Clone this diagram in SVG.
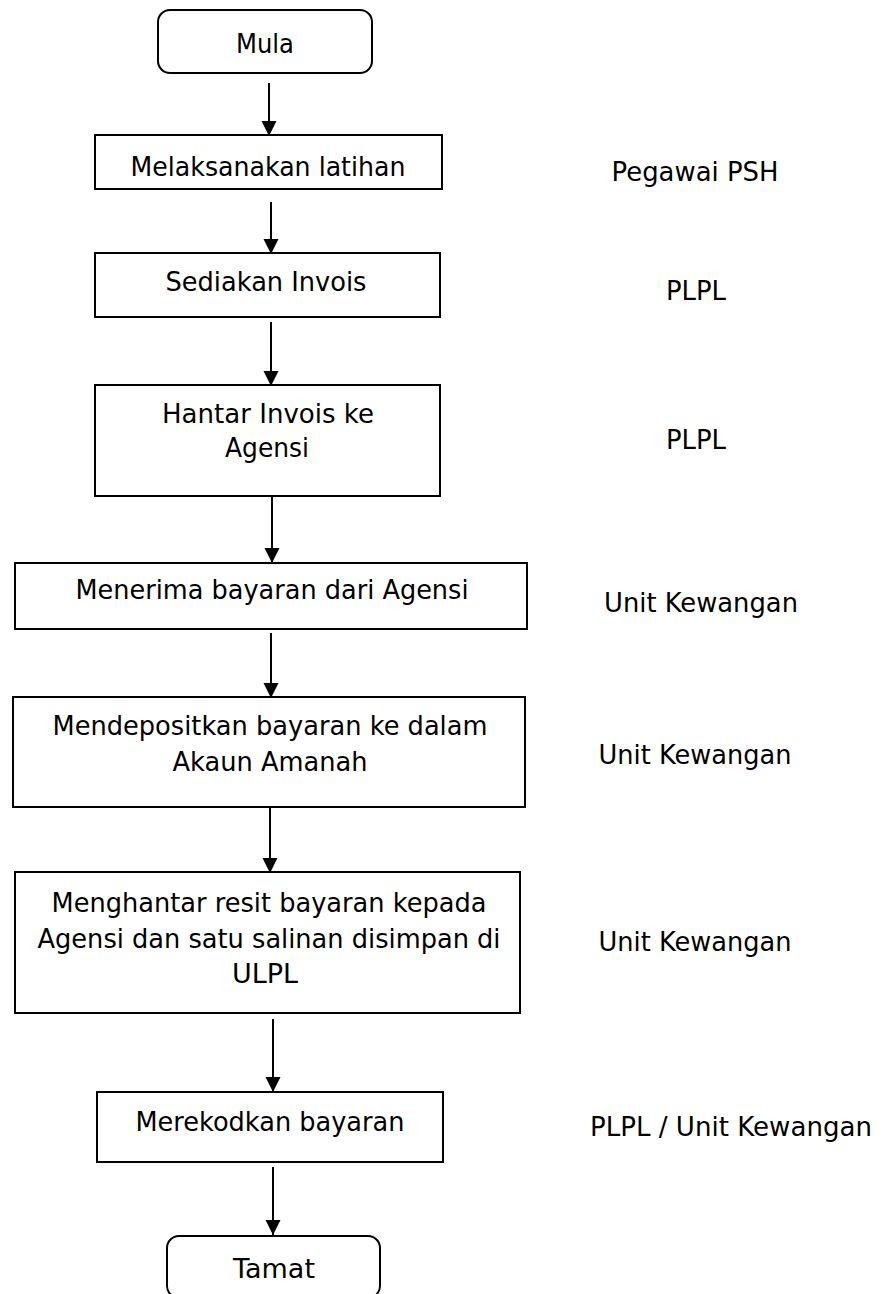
<svg xmlns="http://www.w3.org/2000/svg" width="882" height="1294" viewBox="0 0 882 1294">
<style>
.box{fill:#fff;stroke:#000;stroke-width:2}
text{font-family:"DejaVu Sans","Verdana",sans-serif;font-size:27px;fill:#000;text-anchor:middle}
.c{stroke:#000;stroke-width:2;fill:none}
</style>
<defs>
<marker id="ah" markerUnits="userSpaceOnUse" markerWidth="16" markerHeight="16" viewBox="0 0 15 16" refX="15" refY="8" orient="auto">
<path d="M0,0.5 L15,8 L0,15.5 Z" fill="#000"/>
</marker>
</defs>
<rect width="882" height="1294" fill="#fff"/>
<g id="connectors">
<path class="c" d="M269,83 V136" marker-end="url(#ah)"/>
<path class="c" d="M271,202 V254" marker-end="url(#ah)"/>
<path class="c" d="M271,322 V386" marker-end="url(#ah)"/>
<path class="c" d="M272,497 V563" marker-end="url(#ah)"/>
<path class="c" d="M271,633 V698" marker-end="url(#ah)"/>
<path class="c" d="M270,808 V873" marker-end="url(#ah)"/>
<path class="c" d="M273,1019 V1092" marker-end="url(#ah)"/>
<path class="c" d="M273,1167 V1235" marker-end="url(#ah)"/>
</g>
<g id="mula"><rect class="box" x="158" y="10" width="214" height="63" rx="12"/><text x="265" y="53" textLength="58" lengthAdjust="spacingAndGlyphs">Mula</text></g>
<g id="n1"><rect class="box" x="95" y="135" width="347" height="54"/><text x="268" y="176" textLength="275" lengthAdjust="spacingAndGlyphs">Melaksanakan latihan</text></g>
<g id="n2"><rect class="box" x="95" y="253" width="345" height="64"/><text x="266" y="291" textLength="201" lengthAdjust="spacingAndGlyphs">Sediakan Invois</text></g>
<g id="n3"><rect class="box" x="95" y="385" width="345" height="111"/><text x="268" y="423" textLength="212" lengthAdjust="spacingAndGlyphs">Hantar Invois ke</text><text x="267" y="457" textLength="84" lengthAdjust="spacingAndGlyphs">Agensi</text></g>
<g id="n4"><rect class="box" x="15" y="563" width="512" height="66"/><text x="272" y="599" textLength="393" lengthAdjust="spacingAndGlyphs">Menerima bayaran dari Agensi</text></g>
<g id="n5"><rect class="box" x="13" y="697" width="512" height="110"/><text x="270" y="735" textLength="435" lengthAdjust="spacingAndGlyphs">Mendepositkan bayaran ke dalam</text><text x="270" y="771" textLength="195" lengthAdjust="spacingAndGlyphs">Akaun Amanah</text></g>
<g id="n6"><rect class="box" x="15" y="872" width="505" height="141"/><text x="269" y="912" textLength="435" lengthAdjust="spacingAndGlyphs">Menghantar resit bayaran kepada</text><text x="269" y="948" textLength="463" lengthAdjust="spacingAndGlyphs">Agensi dan satu salinan disimpan di</text><text x="265" y="983">ULPL</text></g>
<g id="n7"><rect class="box" x="97" y="1092" width="346" height="70"/><text x="270" y="1131" textLength="269" lengthAdjust="spacingAndGlyphs">Merekodkan bayaran</text></g>
<g id="tamat"><rect class="box" x="167" y="1236" width="213" height="62" rx="12"/><text x="274" y="1278" textLength="82" lengthAdjust="spacingAndGlyphs">Tamat</text></g>
<g id="labels">
<text x="695" y="181" textLength="167" lengthAdjust="spacingAndGlyphs">Pegawai PSH</text>
<text x="696" y="300" textLength="60" lengthAdjust="spacingAndGlyphs">PLPL</text>
<text x="696" y="449" textLength="60" lengthAdjust="spacingAndGlyphs">PLPL</text>
<text x="701" y="612" textLength="194" lengthAdjust="spacingAndGlyphs">Unit Kewangan</text>
<text x="695" y="764" textLength="193" lengthAdjust="spacingAndGlyphs">Unit Kewangan</text>
<text x="695" y="951" textLength="193" lengthAdjust="spacingAndGlyphs">Unit Kewangan</text>
<text x="731" y="1136" textLength="282" lengthAdjust="spacingAndGlyphs">PLPL / Unit Kewangan</text>
</g>
</svg>
